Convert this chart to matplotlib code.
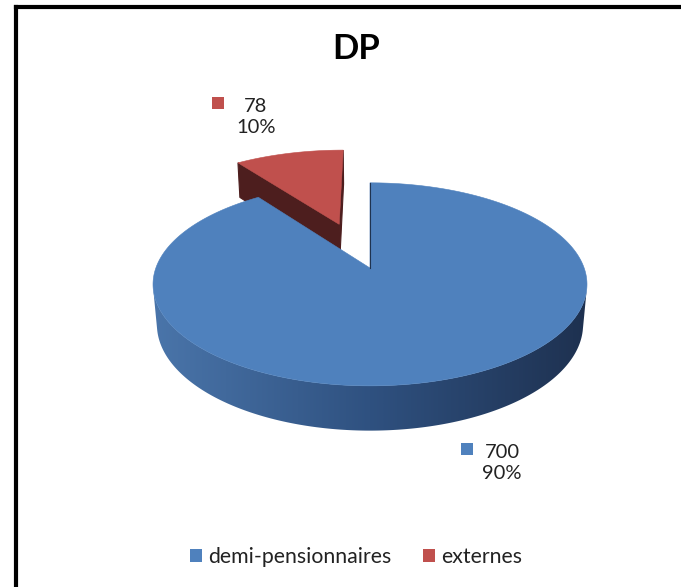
import numpy as np
import matplotlib
matplotlib.use("Agg")
import matplotlib.pyplot as plt
from matplotlib.patches import Polygon, Rectangle, Patch
from matplotlib.colors import LinearSegmentedColormap

plt.rcParams["font.family"] = ["Lato", "DejaVu Sans"]

# data
categories = ["demi-pensionnaires", "externes"]
values = [700, 78]
explode = [0.0, 0.5]
title = "DP"

top_colors = ["#4f81bd", "#c0504d"]
face_colors = ["#1f3350", "#4d1e1e"]
side_cmaps = [LinearSegmentedColormap.from_list("bside", ["#4a75aa", "#2f5180", "#1e3150"]),
              LinearSegmentedColormap.from_list("rside", ["#8a3533", "#4d1e1e"])]

# simple perspective camera for the "3D" pie (screen pixels)
CX, CY = 370, 268
FOC, DIST = 1180, 5.51
ELEV = np.radians(27.5)
S, C = np.sin(ELEV), np.cos(ELEV)
THICK = 0.213
CAM = (0.0, -DIST * C)  # camera position on the disc plane


def proj(X, Z, H):
    v = Z * S + H * C
    w = DIST + Z * C - H * S
    return CX + FOC * X / w, CY - FOC * v / w


def facing(nx, nz, px, pz):
    return nx * (CAM[0] - px) + nz * (CAM[1] - pz) > 0


fig = plt.figure(figsize=(6.81, 5.87), dpi=100)
ax = fig.add_axes([0, 0, 1, 1])
ax.set_xlim(0, 681)
ax.set_ylim(587, 0)
ax.axis("off")

total = sum(values)
start = 90.0
slices = []
for i, v in enumerate(values):
    a0 = start
    a1 = start - v / total * 360
    start = a1
    mid = np.radians((a0 + a1) / 2)
    ox, oz = explode[i] * np.cos(mid), explode[i] * np.sin(mid)
    slices.append((i, np.radians(a0), np.radians(a1), ox, oz))

# far slices first
slices.sort(key=lambda s: -s[4])

for i, a0, a1, ox, oz in slices:
    # radial faces
    for ang, sign in ((a0, 1), (a1, -1)):
        nx, nz = -np.sin(ang) * sign, np.cos(ang) * sign
        px, pz = ox + 0.5 * np.cos(ang), oz + 0.5 * np.sin(ang)
        pts = [proj(ox, oz, 0), proj(ox + np.cos(ang), oz + np.sin(ang), 0),
               proj(ox + np.cos(ang), oz + np.sin(ang), -THICK), proj(ox, oz, -THICK)]
        if facing(nx, nz, px, pz):
            ax.add_patch(Polygon(pts, closed=True, fc=face_colors[i],
                                 ec=face_colors[i], lw=0.8))
    # curved side, one polygon with a horizontal gradient
    ts = np.linspace(a0, a1, 600)
    vis = [t for t in ts if facing(np.cos(t), np.sin(t), ox + np.cos(t), oz + np.sin(t))]
    if len(vis) > 1:
        upper = [proj(ox + np.cos(t), oz + np.sin(t), 0) for t in vis]
        lower = [proj(ox + np.cos(t), oz + np.sin(t), -THICK) for t in vis[::-1]]
        side = Polygon(upper + lower, closed=True, fc="none", ec="none")
        ax.add_patch(side)
        xs = [p[0] for p in upper + lower]
        ys = [p[1] for p in upper + lower]
        grad = np.linspace(0, 1, 256).reshape(1, -1)
        im = ax.imshow(grad, cmap=side_cmaps[i], aspect="auto",
                       extent=(min(xs), max(xs), max(ys), min(ys)), interpolation="bilinear")
        im.set_clip_path(side)
    # top face
    pts = [proj(ox, oz, 0)] + [proj(ox + np.cos(t), oz + np.sin(t), 0) for t in ts]
    ax.add_patch(Polygon(pts, closed=True, fc=top_colors[i], ec=top_colors[i], lw=0.4))
    if i == 0:
        # thin edge of the blue slice at 12 o'clock
        x0, y0 = proj(0, 0, 0)
        x1, y1 = proj(np.cos(a0), np.sin(a0), 0)
        ax.plot([x0, x1], [y0, y1], color="#1f3350", lw=0.8)

ax.set_xlim(0, 681)
ax.set_ylim(587, 0)

# data labels
label_pos = [(502, 463), (256, 117)]
marker_pos = [(466.5, 449), (218, 102.5)]
for i, v in enumerate(values):
    pct = v / total * 100
    lx, ly = label_pos[i]
    ax.text(lx, ly, f"{v}\n{pct:.0f}%", ha="center", va="center",
            multialignment="center", fontsize=14.5, color="#222222", linespacing=1.3)
    mx, my = marker_pos[i]
    ax.add_patch(Rectangle((mx - 6, my - 6), 12, 12, fc=top_colors[i], ec="none"))

ax.text(356, 49, title, ha="center", va="center", fontsize=25, fontweight="bold")

handles = [Patch(fc=top_colors[k], ec="none", label=categories[k]) for k in range(len(categories))]
ax.legend(handles=handles, loc="center", bbox_to_anchor=(0.523, 1 - 557 / 587), ncol=2,
          frameon=False, fontsize=15.3, handlelength=0.55, handleheight=0.55,
          handletextpad=0.3, columnspacing=1.5, labelcolor="#222222")

# frame (left and top edges only, as cropped)
ax.plot([16, 16], [587, 6.5], color="black", lw=3, solid_capstyle="projecting")
ax.plot([16, 681], [6.5, 6.5], color="black", lw=3, solid_capstyle="projecting")

fig.savefig("out.png", dpi=100)
